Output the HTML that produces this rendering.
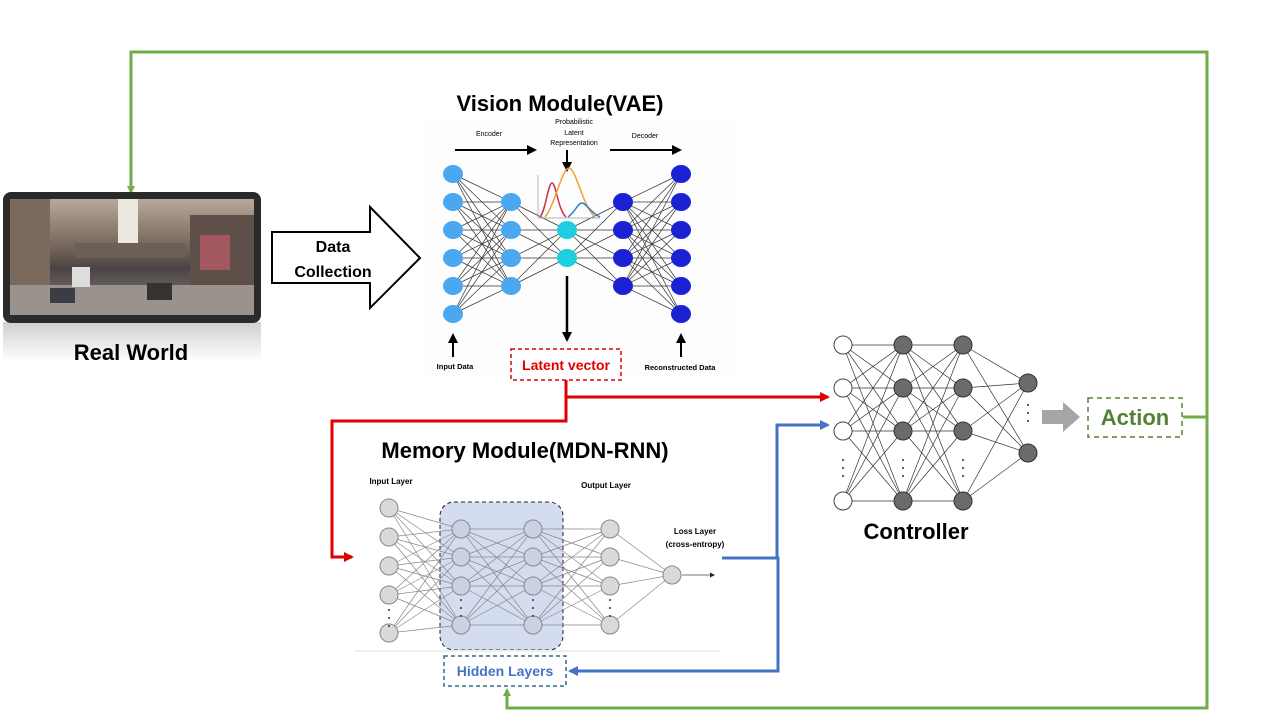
<!DOCTYPE html>
<html><head><meta charset="utf-8"><style>
html,body{margin:0;padding:0;background:#fff;}
svg{display:block;font-family:"Liberation Sans",Arial,sans-serif;}
</style></head><body>
<svg id="s" width="1280" height="720" viewBox="0 0 1280 720" xmlns="http://www.w3.org/2000/svg">
<defs>
<marker id="ag" markerWidth="8" markerHeight="8" refX="6" refY="4" orient="auto" markerUnits="userSpaceOnUse"><path d="M0,0 L8,4 L0,8 z" fill="#70ad47"/></marker>
<marker id="ar" markerWidth="10" markerHeight="10" refX="8" refY="5" orient="auto" markerUnits="userSpaceOnUse"><path d="M0,0 L10,5 L0,10 z" fill="#e00000"/></marker>
<marker id="ab" markerWidth="10" markerHeight="10" refX="8" refY="5" orient="auto" markerUnits="userSpaceOnUse"><path d="M0,0 L10,5 L0,10 z" fill="#4472c4"/></marker>
<marker id="ak" markerWidth="10" markerHeight="10" refX="8" refY="5" orient="auto" markerUnits="userSpaceOnUse"><path d="M0,0 L10,5 L0,10 z" fill="#000"/></marker>
<marker id="as" markerWidth="5" markerHeight="5" refX="4" refY="2.5" orient="auto" markerUnits="userSpaceOnUse"><path d="M0,0 L5,2.5 L0,5 z" fill="#222"/></marker>
<linearGradient id="sky" x1="0" y1="0" x2="0" y2="1"><stop offset="0" stop-color="#b9a89a"/><stop offset="0.45" stop-color="#6e5f55"/><stop offset="0.6" stop-color="#4a4444"/><stop offset="1" stop-color="#8c8580"/></linearGradient>
<linearGradient id="refl" x1="0" y1="0" x2="0" y2="1"><stop offset="0" stop-color="#bbb"/><stop offset="1" stop-color="#fff"/></linearGradient>
</defs>

<polyline points="131,190 131,52 1207,52 1207,708 507,708 507,690" fill="none" stroke="#70ad47" stroke-width="3" marker-end="url(#ag)"/>
<line x1="1183" y1="417" x2="1207" y2="417" stroke="#70ad47" stroke-width="3"/>
<polyline points="131,140 131,192" fill="none" stroke="#70ad47" stroke-width="3" marker-end="url(#ag)"/>

<rect x="3" y="322" width="258" height="40" fill="url(#refl)" opacity="0.7"/>
<rect x="3" y="192" width="258" height="131" rx="8" fill="#2a2a2a"/>
<rect x="10" y="199" width="244" height="116" fill="url(#sky)"/>
<rect x="118" y="199" width="20" height="55" fill="#ece8e0"/>
<rect x="10" y="199" width="40" height="110" fill="#7a6a5e"/>
<rect x="190" y="215" width="64" height="90" fill="#5e5048"/>
<rect x="75" y="243" width="110" height="15" fill="#6a6058"/>
<rect x="10" y="285" width="244" height="30" fill="#9a928c"/>
<rect x="50" y="288" width="25" height="15" fill="#3c3c44"/>
<rect x="147" y="283" width="25" height="17" fill="#333"/>
<rect x="72" y="267" width="18" height="20" fill="#ddd"/>
<rect x="200" y="235" width="30" height="35" fill="#c05a6a" opacity="0.7"/>
<text x="131" y="360" text-anchor="middle" font-size="22" font-weight="bold">Real World</text>

<text x="560" y="111" text-anchor="middle" font-size="22" font-weight="bold">Vision Module(VAE)</text>
<g id="vae"></g>

<path d="M272,232 L370,232 L370,207 L420,258 L370,308 L370,283 L272,283 Z" fill="#fff" stroke="#000" stroke-width="2"/>
<text x="333" y="252" text-anchor="middle" font-size="16" font-weight="bold">Data</text>
<text x="333" y="277" text-anchor="middle" font-size="16" font-weight="bold">Collection</text>

<line x1="455" y1="150" x2="535" y2="150" stroke="#000" stroke-width="2" marker-end="url(#ak)"/>
<line x1="610" y1="150" x2="680" y2="150" stroke="#000" stroke-width="2" marker-end="url(#ak)"/>
<text x="489" y="136" text-anchor="middle" font-size="7">Encoder</text>
<text x="645" y="138" text-anchor="middle" font-size="7">Decoder</text>
<text x="574" y="124" text-anchor="middle" font-size="7">Probabilistic</text>
<text x="574" y="135" text-anchor="middle" font-size="7">Latent</text>
<text x="574" y="145" text-anchor="middle" font-size="7">Representation</text>
<line x1="567" y1="150" x2="567" y2="170" stroke="#000" stroke-width="2" marker-end="url(#ak)"/>
<g fill="none" stroke-width="1.5">
<line x1="538" y1="175" x2="538" y2="218" stroke="#999" stroke-width="0.7"/>
<line x1="538" y1="218" x2="600" y2="218" stroke="#999" stroke-width="0.7"/>
<path d="M540,217 C546,210 548,183 552,183 C556,183 558,210 566,217" stroke="#d03050"/>
<path d="M545,217 C555,205 562,168 569,168 C576,168 582,205 595,217" stroke="#f0a030"/>
<path d="M568,217 C575,212 578,203 582,203 C586,203 590,212 600,217" stroke="#3080d0"/>
</g>
<line x1="567" y1="276" x2="567" y2="340" stroke="#000" stroke-width="2.5" marker-end="url(#ak)"/>
<line x1="453" y1="357" x2="453" y2="335" stroke="#000" stroke-width="2" marker-end="url(#ak)"/>
<line x1="681" y1="357" x2="681" y2="335" stroke="#000" stroke-width="2" marker-end="url(#ak)"/>
<text x="455" y="369" text-anchor="middle" font-size="7.5" font-weight="bold">Input Data</text>
<text x="680" y="370" text-anchor="middle" font-size="7.5" font-weight="bold">Reconstructed Data</text>
<rect x="511" y="349" width="110" height="31" fill="#fff" stroke="#e00000" stroke-width="1.5" stroke-dasharray="4,3"/>
<text x="566" y="370" text-anchor="middle" font-size="14" font-weight="bold" fill="#e00000">Latent vector</text>

<polyline points="566,380 566,421 332,421 332,557 352,557" fill="none" stroke="#e00000" stroke-width="3" marker-end="url(#ar)"/>
<polyline points="566,397 828,397" fill="none" stroke="#e00000" stroke-width="3" marker-end="url(#ar)"/>

<text x="525" y="458" text-anchor="middle" font-size="22" font-weight="bold">Memory Module(MDN-RNN)</text>
<rect x="440" y="502" width="123" height="148" rx="14" fill="#d4ddf0" stroke="#222" stroke-width="1" stroke-dasharray="4,3"/>
<line x1="355" y1="651" x2="720" y2="651" stroke="#eee" stroke-width="2"/>
<g id="mdn"></g>
<text x="391" y="484" text-anchor="middle" font-size="8" font-weight="bold">Input Layer</text>
<text x="606" y="488" text-anchor="middle" font-size="8" font-weight="bold">Output Layer</text>
<text x="695" y="534" text-anchor="middle" font-size="8" font-weight="bold">Loss Layer</text>
<text x="695" y="547" text-anchor="middle" font-size="8" font-weight="bold">(cross-entropy)</text>
<line x1="682" y1="575" x2="714" y2="575" stroke="#444" stroke-width="0.7" marker-end="url(#as)"/>
<rect x="444" y="656" width="122" height="30" fill="#fff" stroke="#2a6f8a" stroke-width="1.5" stroke-dasharray="4,3"/>
<text x="505" y="676" text-anchor="middle" font-size="14" font-weight="bold" fill="#4472c4">Hidden Layers</text>

<polyline points="722,558 778,558 778,671 570,671" fill="none" stroke="#4472c4" stroke-width="3" marker-end="url(#ab)"/>
<polyline points="777,558 777,425 828,425" fill="none" stroke="#4472c4" stroke-width="3" marker-end="url(#ab)"/>

<g id="ctl"></g>
<text x="916" y="539" text-anchor="middle" font-size="22" font-weight="bold">Controller</text>
<path d="M1042,410 L1063,410 L1063,402 L1080,417 L1063,432 L1063,424 L1042,424 Z" fill="#a6a6a6"/>
<rect x="1088" y="398" width="94" height="39" fill="#fff" stroke="#548235" stroke-width="1.5" stroke-dasharray="5,4"/>
<text x="1135" y="425" text-anchor="middle" font-size="22" font-weight="bold" fill="#548235">Action</text>
</svg>
<script>
var NS="http://www.w3.org/2000/svg";
function el(p,t,a){var e=document.createElementNS(NS,t);for(var k in a)e.setAttribute(k,a[k]);p.appendChild(e);return e;}
function net(g,layers,conn,style){
  for(var i=0;i<layers.length-1;i++){var A=layers[i],B=layers[i+1];
    A.ys.forEach(function(y1){B.ys.forEach(function(y2){el(g,"line",{x1:A.x,y1:y1,x2:B.x,y2:y2,stroke:style.line,"stroke-width":style.lw});});});}
  layers.forEach(function(L){L.ys.forEach(function(y){el(g,"ellipse",{cx:L.x,cy:y,rx:L.rx||style.r,ry:L.ry||style.r,fill:L.fill,stroke:L.stroke||"none","stroke-width":1});});
    if(L.dots){for(var d=0;d<3;d++)el(g,"circle",{cx:L.x,cy:L.dots+d*8,r:1,fill:"#333"});}});
}
var bg=document.getElementById("vae");
el(bg,"rect",{x:422,y:118,width:313,height:258,fill:"#fdfdfd"});
net(bg,[
 {x:453,ys:[174,202,230,258,286,314],fill:"#4aa8f0",rx:10,ry:9},
 {x:511,ys:[202,230,258,286],fill:"#4aa8f0",rx:10,ry:9},
 {x:567,ys:[230,258],fill:"#1ecfe0",rx:10,ry:9},
 {x:623,ys:[202,230,258,286],fill:"#1a22d4",rx:10,ry:9},
 {x:681,ys:[174,202,230,258,286,314],fill:"#1a22d4",rx:10,ry:9}],null,{line:"#333",lw:0.7,r:9});
net(document.getElementById("mdn"),[
 {x:389,ys:[508,537,566,595,633],fill:"#d9d9d9",stroke:"#888",dots:610},
 {x:461,ys:[529,557,586,625],fill:"#c9d2e4",stroke:"#888",dots:600},
 {x:533,ys:[529,557,586,625],fill:"#c9d2e4",stroke:"#888",dots:600},
 {x:610,ys:[529,557,586,625],fill:"#d9d9d9",stroke:"#888",dots:600},
 {x:672,ys:[575],fill:"#d9d9d9",stroke:"#888"}],null,{line:"#888",lw:0.7,r:9});
net(document.getElementById("ctl"),[
 {x:843,ys:[345,388,431,501],fill:"#fff",stroke:"#444",dots:460},
 {x:903,ys:[345,388,431,501],fill:"#6b6b6b",stroke:"#333",dots:460},
 {x:963,ys:[345,388,431,501],fill:"#6b6b6b",stroke:"#333",dots:460},
 {x:1028,ys:[383,453],fill:"#6b6b6b",stroke:"#333",dots:405}],null,{line:"#333",lw:0.7,r:9});
</script>
</body></html>
